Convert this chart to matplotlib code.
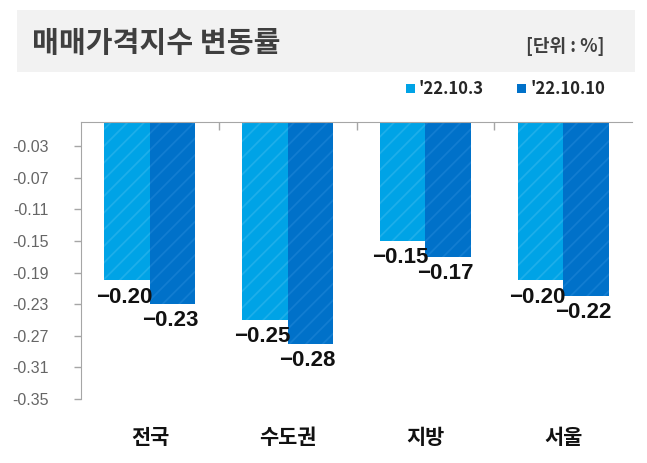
import matplotlib
matplotlib.use("Agg")
import matplotlib.pyplot as plt
from matplotlib.patches import Rectangle
from matplotlib.transforms import blended_transform_factory
import numpy as np

# ---- data ----
regions = ["전국", "수도권", "지방", "서울"]
series_names = ["'22.10.3", "'22.10.10"]
week1 = [-0.20, -0.25, -0.15, -0.20]
week2 = [-0.23, -0.28, -0.17, -0.22]
yticks = [-0.03, -0.07, -0.11, -0.15, -0.19, -0.23, -0.27, -0.31, -0.35]

COLORS = ["#00A3E6", "#0071C9"]
HATCH_COLORS = ["#1DAEEA", "#127DD1"]

KR = ["Noto Sans CJK KR", "DejaVu Sans"]
NUM = ["Liberation Sans", "DejaVu Sans"]

plt.rcParams["hatch.linewidth"] = 1.3

W, H = 647, 463
fig = plt.figure(figsize=(W / 100, H / 100), dpi=100)
ax = fig.add_axes([81 / W, 1 - 399 / H, 551 / W, 276.7 / H])

# ---- title band ----
fig.patches.append(Rectangle((17 / W, 1 - 72 / H), 618 / W, 62 / H,
                             transform=fig.transFigure, facecolor="#F2F2F2",
                             edgecolor="none", zorder=0))
fig.text(32 / W, 1 - 43 / H, "매매가격지수 변동률", family=KR, fontsize=21,
         fontweight="bold", color="#3F3F3F", va="center", ha="left")
fig.text(604 / W, 1 - 46 / H, "[단위 : %]", family=KR, fontsize=13,
         fontweight="bold", color="#3F3F3F", va="center", ha="right")

# ---- legend ----
for name, col, sx in zip(series_names, COLORS, [406, 517]):
    fig.patches.append(Rectangle((sx / W, 1 - 93 / H), 9 / W, 9 / H,
                                 transform=fig.transFigure, facecolor=col,
                                 edgecolor="none"))
    fig.text((sx + 13) / W, 1 - 88.5 / H, name, family=KR, fontsize=12,
             fontweight="bold", color="#262626", va="center", ha="left")

# ---- bars ----
x = np.arange(len(regions))
bw = 0.33
for vals, off, col, hc in [(week1, -bw / 2, COLORS[0], HATCH_COLORS[0]),
                           (week2, bw / 2, COLORS[1], HATCH_COLORS[1])]:
    bars = ax.bar(x + off, vals, width=bw, color=col, edgecolor=hc,
                  hatch="//", linewidth=0, zorder=2)
    for b, v in zip(bars, vals):
        ax.annotate("\u2212%.2f" % abs(v), (b.get_x() + b.get_width() / 2, v),
                    xytext=(-2, -4.5), textcoords="offset points",
                    ha="center", va="top", family=NUM, fontsize=16,
                    fontweight="bold", color="#111111")

ax.set_xlim(-0.5, len(regions) - 0.5)
ax.set_ylim(-0.35, 0)

# y axis
ax.set_yticks(yticks)
ax.set_yticklabels(["-%.2f" % abs(t) for t in yticks])
for lab in ax.get_yticklabels():
    lab.set_family(NUM)
    lab.set_fontsize(11.5)
    lab.set_color("#666666")
ax.tick_params(axis="y", length=5, width=1, color="#A6A6A6", pad=18)

# x axis sits at zero (top) with separators between groups
ax.xaxis.set_ticks_position("top")
ax.set_xticks(x[:-1] + 0.5)
ax.set_xticklabels([])
ax.tick_params(axis="x", direction="in", length=6, width=1, color="#A6A6A6")

for s in ["right", "bottom"]:
    ax.spines[s].set_visible(False)
ax.spines["left"].set_color("#A6A6A6")
ax.spines["top"].set_color("#A6A6A6")
ax.spines["top"].set_zorder(3)

# category labels under the plot (x in data, y in figure space)
trans = blended_transform_factory(ax.transData, fig.transFigure)
for xi, name in zip(x, regions):
    ax.text(xi, 1 - 437 / H, name, transform=trans,
            family=KR, fontsize=15, fontweight="bold", color="#111111",
            ha="center", va="center")

fig.savefig("out.png", dpi=100)
